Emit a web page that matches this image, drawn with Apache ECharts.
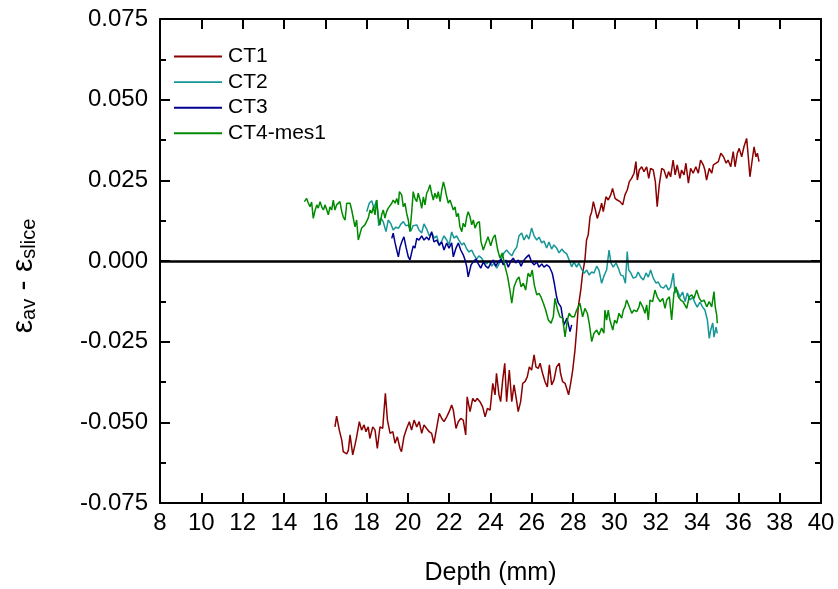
<!DOCTYPE html>
<html><head><meta charset="utf-8">
<script src="https://cdn.jsdelivr.net/npm/echarts@6/dist/echarts.min.js"></script>
<style>html,body{margin:0;padding:0;background:#fff}#c{width:838px;height:589px}</style>
</head><body><div id="c"></div>
<script>
const xTicks = {min: 8, max: 40, step: 2};
const yTicks = {min: -0.075, max: 0.075, step: 0.025};
const seriesNames = ['CT1', 'CT2', 'CT3', 'CT4-mes1'];

const ct1 = [[16.47,-0.0514],[16.55,-0.0481],[16.68,-0.0524],[16.80,-0.0555],[16.87,-0.0591],[17.04,-0.0598],[17.12,-0.0586],[17.20,-0.0539],[17.33,-0.0601],[17.44,-0.0570],[17.52,-0.0545],[17.65,-0.0498],[17.76,-0.0524],[17.88,-0.0508],[17.97,-0.0529],[18.08,-0.0514],[18.16,-0.0550],[18.30,-0.0514],[18.41,-0.0524],[18.52,-0.0581],[18.65,-0.0514],[18.78,-0.0519],[18.91,-0.0410],[19.01,-0.0493],[19.14,-0.0534],[19.27,-0.0529],[19.38,-0.0565],[19.49,-0.0545],[19.62,-0.0581],[19.69,-0.0591],[19.81,-0.0545],[19.94,-0.0519],[20.07,-0.0498],[20.18,-0.0524],[20.30,-0.0493],[20.43,-0.0514],[20.55,-0.0498],[20.67,-0.0534],[20.78,-0.0508],[20.91,-0.0519],[21.03,-0.0529],[21.15,-0.0534],[21.26,-0.0565],[21.39,-0.0519],[21.52,-0.0472],[21.64,-0.0488],[21.75,-0.0498],[21.88,-0.0483],[22.00,-0.0467],[22.12,-0.0446],[22.20,-0.0462],[22.33,-0.0519],[22.44,-0.0498],[22.56,-0.0488],[22.68,-0.0493],[22.80,-0.0539],[22.87,-0.0421],[23.01,-0.0467],[23.14,-0.0426],[23.25,-0.0436],[23.36,-0.0426],[23.49,-0.0436],[23.62,-0.0452],[23.74,-0.0483],[23.85,-0.0457],[23.98,-0.0462],[24.11,-0.0379],[24.22,-0.0415],[24.29,-0.0348],[24.41,-0.0415],[24.49,-0.0436],[24.59,-0.0369],[24.69,-0.0317],[24.78,-0.0436],[24.91,-0.0338],[25.03,-0.0436],[25.14,-0.0384],[25.27,-0.0436],[25.34,-0.0467],[25.46,-0.0436],[25.56,-0.0379],[25.67,-0.0374],[25.78,-0.0359],[25.88,-0.0328],[25.99,-0.0338],[26.11,-0.0291],[26.20,-0.0328],[26.31,-0.0333],[26.40,-0.0317],[26.52,-0.0348],[26.64,-0.0374],[26.75,-0.0390],[26.85,-0.0322],[26.96,-0.0384],[27.07,-0.0369],[27.20,-0.0328],[27.33,-0.0317],[27.39,-0.0348],[27.49,-0.0374],[27.61,-0.0379],[27.69,-0.0395],[27.78,-0.0415],[27.88,-0.0379],[27.98,-0.0338],[28.09,-0.0276],[28.17,-0.0214],[28.25,-0.0142],[28.37,-0.0090],[28.46,-0.0038],[28.57,0.0003],[28.65,0.0065],[28.73,0.0081],[28.82,0.0137],[28.90,0.0153],[28.98,0.0184],[29.06,0.0163],[29.17,0.0132],[29.30,0.0158],[29.38,0.0179],[29.46,0.0153],[29.59,0.0199],[29.70,0.0189],[29.82,0.0205],[29.91,0.0225],[30.03,0.0194],[30.14,0.0189],[30.27,0.0184],[30.40,0.0174],[30.51,0.0205],[30.62,0.0220],[30.72,0.0246],[30.83,0.0256],[30.95,0.0272],[31.04,0.0308],[31.11,0.0251],[31.20,0.0282],[31.32,0.0292],[31.43,0.0277],[31.56,0.0292],[31.66,0.0256],[31.75,0.0287],[31.88,0.0282],[31.98,0.0246],[32.07,0.0168],[32.17,0.0236],[32.29,0.0287],[32.40,0.0282],[32.53,0.0256],[32.62,0.0277],[32.72,0.0261],[32.84,0.0313],[32.94,0.0267],[33.04,0.0298],[33.17,0.0256],[33.25,0.0282],[33.37,0.0267],[33.46,0.0303],[33.58,0.0241],[33.69,0.0287],[33.81,0.0272],[33.94,0.0292],[34.06,0.0272],[34.17,0.0313],[34.30,0.0298],[34.38,0.0282],[34.46,0.0251],[34.59,0.0287],[34.71,0.0272],[34.79,0.0298],[34.92,0.0303],[35.03,0.0308],[35.15,0.0334],[35.28,0.0323],[35.41,0.0303],[35.50,0.0313],[35.63,0.0292],[35.75,0.0339],[35.84,0.0292],[35.95,0.0334],[36.04,0.0349],[36.16,0.0323],[36.27,0.0354],[36.40,0.0380],[36.48,0.0323],[36.56,0.0261],[36.67,0.0313],[36.76,0.0354],[36.85,0.0323],[36.92,0.0334],[37.00,0.0308]];

const ct2 = [[18.01,0.0153],[18.13,0.0179],[18.25,0.0187],[18.36,0.0164],[18.49,0.0189],[18.59,0.0109],[18.70,0.0133],[18.81,0.0121],[18.94,0.0091],[19.05,0.0127],[19.18,0.0115],[19.29,0.0096],[19.42,0.0105],[19.54,0.0101],[19.67,0.0115],[19.78,0.0122],[19.91,0.0109],[20.02,0.0112],[20.15,0.0093],[20.25,0.0109],[20.43,0.0112],[20.54,0.0096],[20.67,0.0087],[20.78,0.0115],[20.91,0.0099],[21.04,0.0078],[21.17,0.0087],[21.28,0.0071],[21.40,0.0078],[21.52,0.0047],[21.64,0.0062],[21.75,0.0078],[21.88,0.0065],[22.00,0.0050],[22.12,0.0090],[22.23,0.0071],[22.36,0.0078],[22.47,0.0065],[22.61,0.0050],[22.72,0.0056],[22.85,0.0037],[22.96,0.0028],[23.09,0.0034],[23.20,0.0019],[23.33,0.0006],[23.44,0.0016],[23.57,0.0009],[23.68,-0.0003],[23.82,-0.0009],[23.93,0.0000],[24.06,-0.0016],[24.17,-0.0006],[24.30,-0.0022],[24.41,-0.0009],[24.54,0.0009],[24.65,0.0025],[24.78,0.0034],[24.90,0.0025],[25.03,0.0016],[25.14,0.0031],[25.27,0.0043],[25.38,0.0078],[25.51,0.0087],[25.62,0.0065],[25.75,0.0081],[25.86,0.0068],[25.99,0.0102],[26.11,0.0078],[26.24,0.0065],[26.35,0.0074],[26.48,0.0056],[26.59,0.0062],[26.72,0.0040],[26.83,0.0059],[26.96,0.0037],[27.07,0.0050],[27.20,0.0040],[27.32,0.0025],[27.45,0.0037],[27.56,0.0028],[27.69,0.0022],[27.81,0.0003],[27.93,-0.0018],[28.04,-0.0003],[28.17,-0.0019],[28.28,-0.0006],[28.41,-0.0025],[28.53,-0.0038],[28.66,-0.0028],[28.77,-0.0043],[28.90,-0.0034],[29.01,-0.0037],[29.14,-0.0016],[29.25,-0.0028],[29.38,-0.0069],[29.49,-0.0047],[29.62,-0.0028],[29.74,0.0034],[29.83,-0.0006],[29.94,-0.0019],[30.08,-0.0006],[30.19,-0.0022],[30.30,-0.0043],[30.43,-0.0047],[30.53,-0.0069],[30.62,0.0029],[30.69,-0.0028],[30.79,-0.0037],[30.91,-0.0053],[31.04,-0.0050],[31.15,-0.0034],[31.27,-0.0050],[31.40,-0.0059],[31.53,-0.0037],[31.64,-0.0050],[31.75,-0.0028],[31.88,-0.0053],[32.01,-0.0068],[32.12,-0.0065],[32.24,-0.0080],[32.37,-0.0084],[32.50,-0.0074],[32.61,-0.0090],[32.72,-0.0081],[32.85,-0.0038],[32.93,-0.0099],[33.04,-0.0090],[33.17,-0.0112],[33.30,-0.0096],[33.42,-0.0126],[33.53,-0.0099],[33.66,-0.0121],[33.79,-0.0112],[33.90,-0.0130],[34.01,-0.0143],[34.14,-0.0127],[34.27,-0.0143],[34.38,-0.0152],[34.50,-0.0183],[34.59,-0.0240],[34.66,-0.0214],[34.76,-0.0192],[34.82,-0.0236],[34.92,-0.0205],[34.98,-0.0224]];

const ct3 = [[19.22,0.0070],[19.29,0.0086],[19.38,0.0056],[19.46,0.0034],[19.54,0.0013],[19.62,0.0043],[19.72,0.0062],[19.81,0.0075],[19.91,0.0043],[20.02,0.0013],[20.10,0.0003],[20.18,0.0025],[20.26,0.0047],[20.34,0.0040],[20.43,0.0070],[20.54,0.0065],[20.67,0.0078],[20.78,0.0065],[20.91,0.0074],[21.02,0.0065],[21.15,0.0091],[21.26,0.0059],[21.40,0.0065],[21.51,0.0050],[21.64,0.0059],[21.75,0.0034],[21.88,0.0056],[21.99,0.0040],[22.12,0.0056],[22.20,0.0013],[22.33,0.0040],[22.44,0.0056],[22.56,0.0034],[22.68,0.0019],[22.77,0.0003],[22.85,-0.0018],[22.92,-0.0049],[23.06,-0.0012],[23.17,-0.0002],[23.30,0.0006],[23.41,-0.0009],[23.53,-0.0022],[23.65,-0.0003],[23.77,-0.0016],[23.89,-0.0022],[24.02,-0.0006],[24.14,0.0003],[24.25,-0.0016],[24.38,-0.0003],[24.51,0.0006],[24.62,-0.0012],[24.74,0.0003],[24.86,-0.0019],[24.99,0.0000],[25.10,0.0009],[25.22,-0.0006],[25.35,0.0003],[25.48,-0.0016],[25.59,0.0000],[25.70,0.0009],[25.86,0.0019],[25.99,-0.0003],[26.12,-0.0012],[26.24,-0.0003],[26.35,-0.0019],[26.48,-0.0009],[26.59,-0.0019],[26.72,-0.0012],[26.85,-0.0018],[26.93,-0.0012],[26.99,-0.0038],[27.09,-0.0069],[27.20,-0.0111],[27.28,-0.0130],[27.41,-0.0142],[27.49,-0.0174],[27.56,-0.0198],[27.61,-0.0193],[27.70,-0.0177],[27.80,-0.0204],[27.85,-0.0219],[27.93,-0.0198]];

const ct4 = [[14.99,0.0184],[15.10,0.0194],[15.18,0.0180],[15.26,0.0168],[15.34,0.0183],[15.42,0.0132],[15.50,0.0155],[15.59,0.0174],[15.66,0.0164],[15.75,0.0184],[15.83,0.0168],[15.91,0.0158],[15.99,0.0174],[16.15,0.0143],[16.23,0.0168],[16.31,0.0158],[16.39,0.0189],[16.47,0.0158],[16.55,0.0174],[16.63,0.0168],[16.71,0.0184],[16.80,0.0153],[16.87,0.0137],[16.96,0.0127],[17.04,0.0179],[17.12,0.0174],[17.20,0.0179],[17.28,0.0158],[17.36,0.0153],[17.44,0.0106],[17.52,0.0127],[17.60,0.0065],[17.68,0.0070],[17.76,0.0102],[17.84,0.0096],[17.92,0.0112],[18.01,0.0117],[18.08,0.0133],[18.17,0.0158],[18.25,0.0148],[18.33,0.0168],[18.41,0.0143],[18.49,0.0189],[18.57,0.0137],[18.65,0.0112],[18.73,0.0143],[18.81,0.0158],[18.89,0.0133],[18.97,0.0153],[19.05,0.0164],[19.13,0.0168],[19.22,0.0179],[19.29,0.0189],[19.38,0.0179],[19.46,0.0194],[19.54,0.0174],[19.59,0.0215],[19.70,0.0205],[19.78,0.0168],[19.86,0.0179],[19.94,0.0148],[20.02,0.0127],[20.10,0.0091],[20.18,0.0148],[20.26,0.0215],[20.34,0.0194],[20.43,0.0184],[20.50,0.0210],[20.59,0.0189],[20.67,0.0163],[20.75,0.0199],[20.83,0.0174],[20.91,0.0210],[20.99,0.0220],[21.07,0.0236],[21.15,0.0210],[21.23,0.0189],[21.31,0.0210],[21.40,0.0194],[21.47,0.0215],[21.56,0.0184],[21.64,0.0220],[21.72,0.0245],[21.80,0.0225],[21.88,0.0199],[21.96,0.0179],[22.04,0.0189],[22.12,0.0184],[22.20,0.0158],[22.28,0.0168],[22.36,0.0137],[22.44,0.0148],[22.52,0.0106],[22.61,0.0091],[22.68,0.0117],[22.77,0.0106],[22.85,0.0137],[22.92,0.0153],[23.01,0.0137],[23.09,0.0112],[23.17,0.0127],[23.25,0.0102],[23.36,0.0118],[23.46,0.0122],[23.54,0.0060],[23.65,0.0034],[23.77,0.0056],[23.88,0.0075],[24.01,0.0047],[24.12,0.0071],[24.22,0.0081],[24.35,0.0034],[24.46,0.0009],[24.57,0.0025],[24.70,-0.0016],[24.83,-0.0049],[24.94,-0.0090],[25.03,-0.0131],[25.14,-0.0080],[25.27,-0.0059],[25.38,-0.0049],[25.48,-0.0080],[25.59,-0.0069],[25.70,-0.0090],[25.82,-0.0038],[25.93,-0.0049],[26.02,-0.0028],[26.12,-0.0074],[26.24,-0.0105],[26.35,-0.0100],[26.44,-0.0111],[26.56,-0.0131],[26.67,-0.0152],[26.80,-0.0183],[26.93,-0.0193],[27.04,-0.0173],[27.12,-0.0116],[27.25,-0.0152],[27.36,-0.0173],[27.49,-0.0177],[27.61,-0.0235],[27.72,-0.0183],[27.81,-0.0162],[27.93,-0.0173],[28.06,-0.0173],[28.17,-0.0152],[28.25,-0.0142],[28.33,-0.0131],[28.46,-0.0173],[28.57,-0.0147],[28.69,-0.0162],[28.78,-0.0193],[28.90,-0.0250],[29.01,-0.0224],[29.14,-0.0214],[29.25,-0.0229],[29.38,-0.0208],[29.49,-0.0224],[29.54,-0.0152],[29.62,-0.0183],[29.70,-0.0152],[29.78,-0.0183],[29.92,-0.0214],[30.01,-0.0183],[30.11,-0.0193],[30.22,-0.0162],[30.35,-0.0177],[30.43,-0.0152],[30.51,-0.0142],[30.59,-0.0121],[30.72,-0.0142],[30.84,-0.0162],[30.95,-0.0152],[31.08,-0.0157],[31.19,-0.0142],[31.24,-0.0126],[31.37,-0.0142],[31.48,-0.0162],[31.56,-0.0136],[31.64,-0.0183],[31.72,-0.0121],[31.85,-0.0126],[31.96,-0.0090],[32.07,-0.0111],[32.21,-0.0126],[32.34,-0.0116],[32.45,-0.0147],[32.53,-0.0121],[32.66,-0.0111],[32.77,-0.0183],[32.88,-0.0100],[32.98,-0.0080],[33.09,-0.0111],[33.21,-0.0121],[33.32,-0.0126],[33.50,-0.0147],[33.62,-0.0111],[33.74,-0.0105],[33.85,-0.0116],[33.98,-0.0090],[34.11,-0.0116],[34.22,-0.0126],[34.34,-0.0121],[34.47,-0.0142],[34.59,-0.0126],[34.71,-0.0142],[34.82,-0.0095],[34.88,-0.0142],[34.95,-0.0167],[34.98,-0.0193]];

const seriesColors = ['#8b0000', '#169696', '#000090', '#008a00'];
const FONT = "'Liberation Sans', Arial, sans-serif";

const chart = echarts.init(document.getElementById('c'), null, {renderer: 'canvas'});
const axLine = {show: true, onZero: false, lineStyle: {color: '#000', width: 2}};
const tickStyle = {color: '#000', width: 2};
const yFmt = v => v.toFixed(3);

chart.setOption({
  animation: false,
  backgroundColor: '#fff',
  grid: {left: 160, right: 17, top: 19, bottom: 86, containLabel: false, outerBoundsMode: 'none'},
  legend: {
    data: seriesNames, orient: 'vertical', left: 169, top: 41,
    itemWidth: 48, itemHeight: 14, itemGap: 4.6,
    textStyle: {fontFamily: FONT, fontSize: 21, color: '#000', padding: [0, 0, 0, 1]},
    icon: 'path://M0,0 L100,0 L100,4 L0,4 Z'
  },
  xAxis: [
    {type: 'value', min: xTicks.min, max: xTicks.max, interval: xTicks.step, position: 'bottom',
     axisLine: axLine, axisTick: {show: true, inside: true, length: 10, lineStyle: tickStyle},
     axisLabel: {fontFamily: FONT, fontSize: 24, color: '#000', margin: 8},
     splitLine: {show: false},
     name: 'Depth (mm)', nameLocation: 'middle', nameGap: 58,
     nameTextStyle: {fontFamily: FONT, fontSize: 25, color: '#000'}},
    {type: 'value', min: xTicks.min, max: xTicks.max, interval: xTicks.step, position: 'top',
     axisLine: axLine, axisTick: {show: true, inside: true, length: 10, lineStyle: tickStyle},
     axisLabel: {show: false}, splitLine: {show: false}}
  ],
  yAxis: [
    {type: 'value', min: yTicks.min, max: yTicks.max, interval: yTicks.step, position: 'left',
     axisLine: axLine, axisTick: {show: true, inside: true, length: 10, lineStyle: tickStyle},
     minorTick: {show: true, splitNumber: 2, length: 6, lineStyle: tickStyle},
     axisLabel: {fontFamily: FONT, fontSize: 24, color: '#000', margin: 12, formatter: yFmt},
     splitLine: {show: false}, minorSplitLine: {show: false},
     name: '{a|ε}{b|av}{a| - ε}{b|slice}', nameLocation: 'middle', nameGap: 121,
     nameTextStyle: {fontFamily: FONT, color: '#000', padding: [0, 30, 0, 0],
       rich: {a: {fontFamily: FONT, fontSize: 30, lineHeight: 38, verticalAlign: 'bottom', color: '#000'},
              b: {fontFamily: FONT, fontSize: 20, lineHeight: 29, verticalAlign: 'bottom', color: '#000'}}}},
    {type: 'value', min: yTicks.min, max: yTicks.max, interval: yTicks.step, position: 'right',
     axisLine: axLine, axisTick: {show: true, inside: true, length: 10, lineStyle: tickStyle},
     minorTick: {show: true, splitNumber: 2, length: 6, lineStyle: tickStyle},
     axisLabel: {show: false}, splitLine: {show: false}, minorSplitLine: {show: false}}
  ],
  series: [ct1, ct2, ct3, ct4].map((d, i) => ({
    name: seriesNames[i], type: 'line', data: d, symbol: 'none', showSymbol: false,
    xAxisIndex: 0, yAxisIndex: 0,
    lineStyle: {color: seriesColors[i], width: 1.5}, itemStyle: {color: seriesColors[i]},
    z: 3 + i,
    markLine: i === 0 ? {silent: true, symbol: 'none', label: {show: false},
      lineStyle: {color: '#000', width: 2.5, type: 'solid'}, data: [{yAxis: 0}]} : undefined
  }))
});
</script></body></html>
